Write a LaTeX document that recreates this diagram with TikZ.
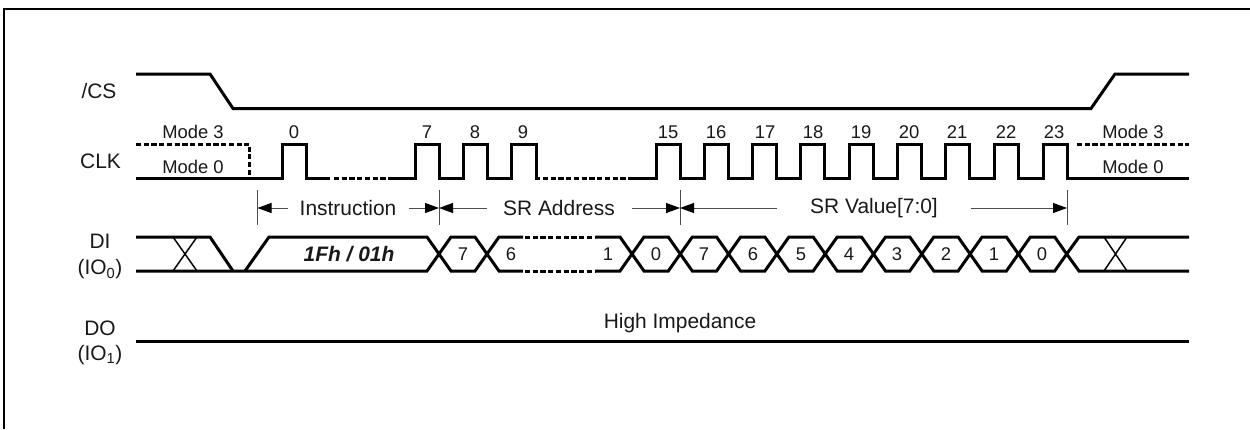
\documentclass[tikz,border=0pt]{standalone}
\usepackage{fontspec}
\setmainfont{Liberation Sans}
\usetikzlibrary{arrows.meta}
\newcommand{\fa}{\fontsize{15.7pt}{18pt}\selectfont}
\newcommand{\fb}{\fontsize{13.8pt}{16pt}\selectfont}
\tikzset{
  x=0.75pt,y=-0.75pt,
  wave/.style={line width=2.25pt,line join=miter,line cap=butt,black},
  dotwave/.style={line width=2.25pt,black,dash pattern=on 3.9pt off 1.9pt},
  thinx/.style={line width=1.1pt,black},
  tick/.style={line width=0.75pt,black!70},
  dim/.style={line width=0.75pt,black!70,-{Triangle[length=10.5pt,width=7.5pt,black]}},
  biglab/.style={font=\fa,inner sep=0pt,text=black!90},
  smalllab/.style={font=\fb,inner sep=0pt,text=black!90},
  framebox/.style={line width=1.5pt,black},
}
\begin{document}
\begin{tikzpicture}
\useasboundingbox (0,0) rectangle (1250,429);
\fill[white] (0,0) rectangle (1250,429);
% frame
\draw[framebox] (4,429) -- (4,9) -- (1250,9);
% /CS
\draw[wave] (136,74) -- (210,74) -- (233,108.5) -- (1091,108.5) -- (1115,74) -- (1189,74);
% CLK
\draw[dotwave] (136,144) -- (249.5,144) -- (249.5,178);
\draw[dotwave] (1077,144) -- (1189,144);
\draw[wave] (136,178.5) -- (282,178.5) -- (282,144) -- (306,144) -- (306,178.5) -- (330,178.5);
\draw[dotwave] (334,178.5) -- (388,178.5);
\draw[wave] (388,178.5) -- (415,178.5) -- (415,144) -- (439,144) -- (439,178.5) -- (463,178.5) -- (463,144) -- (487,144) -- (487,178.5) -- (511,178.5) -- (511,144) -- (536,144) -- (536,178.5) -- (540,178.5);
\draw[dotwave] (543,178.5) -- (632,178.5);
\draw[wave] (632,178.5) -- (656,178.5)
  \foreach \r in {656,704.3,752.6,800.9,849.2,897.5,945.8,994.1,1043} { -- (\r,178.5) -- (\r,144) -- (\r+24,144) -- (\r+24,178.5) }
  -- (1189,178.5);
% dimension ticks and arrows
\coordinate (ta) at (257.5,208);
\coordinate (tb) at (439,208);
\coordinate (tc) at (680,208);
\coordinate (td) at (1067,208);
\foreach \t in {ta,tb,tc,td} \draw[tick] (\t) ++(0,-18) -- ++(0,35);
\coordinate (a1) at (288,208); \coordinate (a2) at (409,208);
\coordinate (a3) at (487,208); \coordinate (a4) at (632,208);
\coordinate (a5) at (777,208); \coordinate (a6) at (971,208);
\draw[dim] (a1) -- (ta);
\draw[dim] (a2) -- (tb);
\draw[dim] (a3) -- (tb);
\draw[dim] (a4) -- (tc);
\draw[dim] (a5) -- (tc);
\draw[dim] (a6) -- (td);
% DI
\draw[wave] (136,237) -- (210,237) -- (233,271);
\draw[wave] (136,271) -- (427,271) -- (451,237) -- (475,237) -- (499,271) -- (523,271);
\draw[thinx] (173,271) -- (197,237) (173,237) -- (197,271);
\draw[wave] (245,271) -- (269,237) -- (427,237) -- (451,271) -- (475,271) -- (499,237) -- (523,237);
\draw[dotwave] (525,237) -- (595,237) (525,271) -- (595,271);
\draw[wave] (595,237) -- (620,237) -- (632,254) -- (620,271) -- (595,271);
\foreach \c in {632,680.3,728.6,776.9,825.2,873.5,921.8,970.1,1018.4}
  \draw[wave] (\c,254) -- (\c+12,237) -- (\c+36.3,237) -- (\c+48.3,254) -- (\c+36.3,271) -- (\c+12,271) -- cycle;
\draw[wave] (1189,237) -- (1079,237) -- (1066.7,254) -- (1079,271) -- (1189,271);
\draw[thinx] (1104,271) -- (1127,237) (1104,237) -- (1127,271);
% DO
\draw[wave] (136,341) -- (1189,341);
% signal labels
\node[biglab] (lcs) at (99,91) {/CS};
\node[biglab] (lclk) at (100.5,161) {CLK};
\node[biglab] (ldi) at (100,241) {DI};
\node[biglab] (lio0) at (100,269) {(IO\textsubscript{0})};
\node[biglab] (ldo) at (100,328) {DO};
\node[biglab] (lio1) at (100,355) {(IO\textsubscript{1})};
\node[smalllab] (m3l) at (193,132) {Mode 3};
\node[smalllab] (m0l) at (193,167) {Mode 0};
\node[smalllab] (m3r) at (1133,132) {Mode 3};
\node[smalllab] (m0r) at (1133,167) {Mode 0};
% clock numbers
\foreach \n/\x in {0/294,7/427,8/475,9/523,15/668,16/716,17/765,18/813,19/861,20/909,21/957,22/1006,23/1054}
  \node[smalllab] (c\n) at (\x,132) {\n};
% spans
\node[biglab] (sins) at (348,208) {Instruction};
\node[biglab] (sadr) at (559,208) {SR Address};
\node[biglab] (sval) at (874,208) {SR Value[7:0]};
% data
\node[biglab,font=\fa\bfseries\itshape] (dcmd) at (349,254) {1Fh / 01h};
\foreach \n/\x/\l in {a/463/7,b/511/6,c/608/1,d/656/0,e/704/7,f/753/6,g/801/5,h/849/4,i/897/3,j/946/2,k/994/1,l/1042/0}
  \node[smalllab] (d\n) at (\x,254) {\l};
\node[biglab] (hi) at (680,323) {High Impedance};
\end{tikzpicture}
\end{document}
